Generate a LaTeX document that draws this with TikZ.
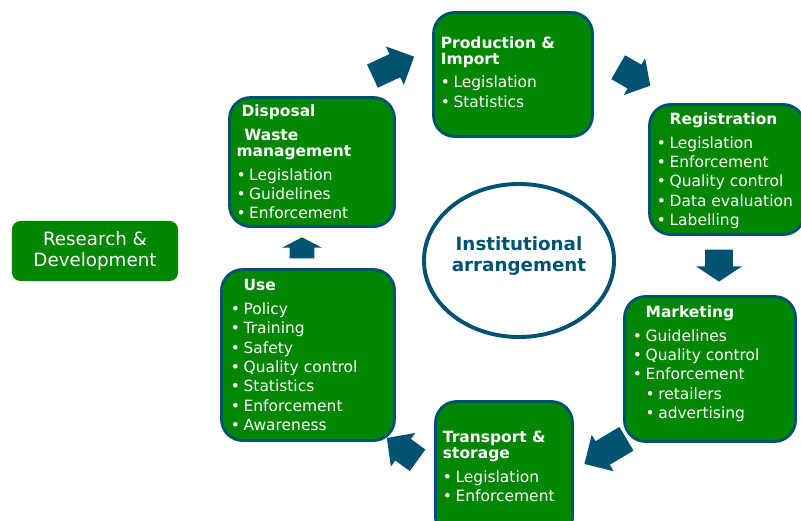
\documentclass[tikz,border=0pt]{standalone}
\usepackage{fontspec}
\setmainfont{DejaVu Sans}
\usetikzlibrary{shapes.geometric,shapes.arrows}
\definecolor{ink}{RGB}{0,82,115}
\definecolor{leaf}{RGB}{0,134,0}
\newcommand{\itemdot}{\textbullet\hspace{2.5pt}}

\begin{document}
\begin{tikzpicture}[x=0.025cm,y=-0.025cm]
\tikzstyle{stage}=[draw=ink,line width=2pt,fill=leaf,rounded corners=15pt,inner sep=0pt];
\tikzstyle{lst}=[anchor=north west,inner sep=0pt,text=white,align=left,font=\fontsize{11}{13.75}\selectfont];
\tikzstyle{blk}=[single arrow,fill=ink,inner xsep=0pt,single arrow head indent=0pt];

\useasboundingbox (0,0) rectangle (801,520);

% the six stages round the circle
\foreach \n/\x/\y/\w/\h in {prod/513/74.5/159/124, reg/727/169.5/155/130, disp/312/162/165/129, mkt/710/369/171/145, use/308/355/173/171, trans/504/470/137/137}
  \node[stage,minimum width=\w*0.025cm,minimum height=\h*0.025cm] (\n) at (\x,\y) {};

\node[fill=leaf,rounded corners=6pt,minimum width=4.15cm,minimum height=1.5cm,text=white,align=center,font=\fontsize{13}{14.5}\selectfont] (rnd) at (95,251) {Research \&\\Development};

\node[ellipse,draw=ink,line width=2.8pt,minimum width=4.75cm,minimum height=3.825cm] (inst) at (519,260.5) {};
\node[text=ink,align=center,font=\bfseries\fontsize{13}{15.6}\selectfont] (inst-t) at (519,256) {Institutional\\arrangement};

% texts in the boxes
\node[lst] (prod-t) at (440.6,36.2) {\textbf{Production \&}\\[-2.3pt]\textbf{Import}\\[3pt]\itemdot Legislation\\\itemdot Statistics};
\node[lst] (reg-t) at (656.7,112.5) {\hphantom{\itemdot}\textbf{Registration}\\[3pt]\itemdot Legislation\\\itemdot Enforcement\\\itemdot Quality control\\\itemdot Data evaluation\\\itemdot Labelling};
\node[lst] (disp-t) at (236.3,104.9) {\hspace*{3.5pt}\textbf{Disposal}\\[2.8pt]\hspace*{5.5pt}\textbf{Waste}\\[-2.4pt]\textbf{management}\\[3.3pt]\itemdot Legislation\\\itemdot Guidelines\\\itemdot Enforcement};
\node[lst] (mkt-t) at (632.7,305.5) {\hphantom{\itemdot}\textbf{Marketing}\\[3pt]\itemdot Guidelines\\\itemdot Quality control\\\itemdot Enforcement\\\hphantom{\itemdot}\itemdot retailers\\\hphantom{\itemdot}\itemdot advertising};
\node[lst] (use-t) at (230.7,279.4) {\hphantom{\itemdot}\textbf{Use}\\[3pt]\itemdot Policy\\\itemdot Training\\\itemdot Safety\\\itemdot Quality control\\\itemdot Statistics\\\itemdot Enforcement\\\itemdot Awareness};
\node[lst] (trans-t) at (442.7,430.8) {\textbf{Transport \&}\\[-2.3pt]\textbf{storage}\\[3pt]\itemdot Legislation\\\itemdot Enforcement};

% block arrows between the stages
\foreach \n/\x/\y/\ang/\l/\hw/\s/\e/\t in {a1/387.5/69.1/25/46/42/0.3125cm/0.2125cm/90, a2/629.1/73.5/-30/37/42/0.3375cm/0.1875cm/99, a3/719/261/-90/32/45/0.3375cm/0.225cm/113, a4/611.3/447.8/211/49/42/0.3375cm/0.1875cm/90, a5/407.4/452.9/144/38/41/0.325cm/0.1875cm/92, a6/302/251/90/21/39/0.3cm/0.1875cm/125}
  \node[blk,rotate=\ang,inner ysep=\s,minimum height=\l*0.025cm,minimum width=\hw*0.025cm,single arrow head extend=\e,single arrow tip angle=\t] (\n) at (\x,\y) {};

\end{tikzpicture}
\end{document}
